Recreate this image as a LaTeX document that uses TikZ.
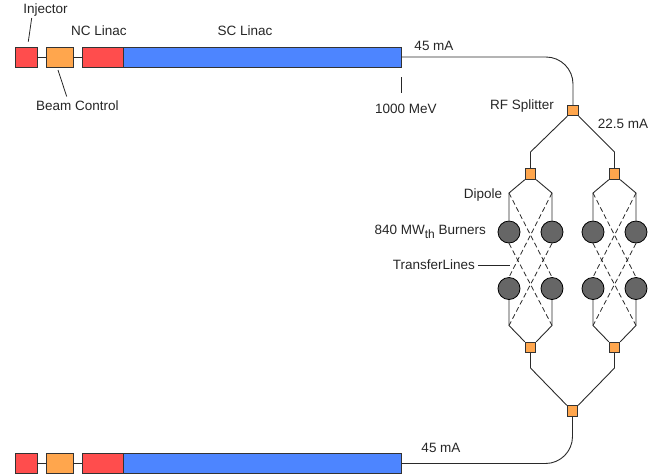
\documentclass[tikz,border=0pt]{standalone}
\usepackage{fontspec}
\setmainfont{Liberation Sans}
\definecolor{injred}{HTML}{FF4D4D}
\definecolor{bcorange}{HTML}{FFA64D}
\definecolor{scblue}{HTML}{4D85FF}
\definecolor{burner}{HTML}{666666}
\definecolor{wire}{HTML}{2A2A2A}
\begin{document}
\begin{tikzpicture}[x=1pt,y=-1pt,
  lbl/.style={font=\fontsize{13.5}{15}\selectfont, inner sep=0pt, text=black!85},
  unit/.style={draw=black!80, line width=0.9pt, minimum height=20pt, inner sep=0pt, anchor=center},
  magnet/.style={draw=black!80, line width=0.8pt, fill=bcorange, minimum size=10.5pt, inner sep=0pt},
  burnerdisk/.style={circle, draw=black, line width=0.8pt, fill=burner, minimum size=22pt, inner sep=0pt},
  beam/.style={draw=wire, line width=0.9pt},
  xfer/.style={draw=wire, line width=0.8pt, dash pattern=on 5pt off 3pt},
  leader/.style={draw=black!85, line width=0.8pt}]
\useasboundingbox (0,0) rectangle (662,475);

% ---------- accelerator chains ----------
\foreach \r/\y in {t/57, b/463.5}{
  \node[unit, fill=injred, minimum width=22pt] (inj\r) at (26,\y) {};
  \node[unit, fill=bcorange, minimum width=27pt] (bc\r) at (59.5,\y) {};
  \node[unit, fill=injred, minimum width=41pt] (nc\r) at (102.5,\y) {};
  \node[unit, fill=scblue, minimum width=278pt] (sc\r) at (262,\y) {};
  \draw[beam] (inj\r.east) -- (bc\r.west);
  \draw[beam] (bc\r.east) -- (nc\r.west);
}

% ---------- splitter and merger ----------
\node[magnet] (spl) at (573,110.5) {};
\node[magnet] (mrg) at (572.5,411) {};
\draw[beam, rounded corners=27pt] (sct.east) -| (spl.north);
\draw[beam, rounded corners=27pt] (scb.east) -| (mrg.south);

% ---------- two burner branches ----------
\foreach \s/\cx in {L/530.5, R/614.5}{
  \node[magnet] (dip\s) at (\cx,174) {};
  \node[magnet] (bot\s) at (\cx,347.5) {};
  \coordinate (in\s) at (\cx,152);
  \coordinate (out\s) at (\cx,368);
  \coordinate (tl\s) at (\cx-21.5,193);
  \coordinate (tr\s) at (\cx+21.5,193);
  \coordinate (bl\s) at (\cx-21.5,325.5);
  \coordinate (br\s) at (\cx+21.5,325.5);
  \node[burnerdisk] (ul\s) at (\cx-21.5,232) {};
  \node[burnerdisk] (ur\s) at (\cx+21.5,232) {};
  \node[burnerdisk] (ll\s) at (\cx-21.5,288.5) {};
  \node[burnerdisk] (lr\s) at (\cx+21.5,288.5) {};
  % beam lines
  \draw[beam] (in\s) -- (dip\s.north);
  \draw[beam] (dip\s.south west) -- (tl\s) -- (ul\s.north);
  \draw[beam] (dip\s.south east) -- (tr\s) -- (ur\s.north);
  \draw[beam] (ll\s.south) -- (bl\s) -- (bot\s.north west);
  \draw[beam] (lr\s.south) -- (br\s) -- (bot\s.north east);
  \draw[beam] (bot\s.south) -- (out\s);
  % transfer lines
  \draw[xfer] (tl\s) -- (lr\s.north);
  \draw[xfer] (tr\s) -- (ll\s.north);
  \draw[xfer] (ul\s.south) -- (br\s);
  \draw[xfer] (ur\s.south) -- (bl\s);
}
\draw[beam] (spl.south west) -- (inL);
\draw[beam] (spl.south east) -- (inR);
\draw[beam] (outL) -- (mrg.north west);
\draw[beam] (outR) -- (mrg.north east);

% ---------- labels ----------
\node[lbl] (tInj) at (45.5,10) {Injector};
\coordinate (aInj) at (28.3,41.7);
\draw[leader] (31.7,18) -- (aInj);
\node[lbl] (tNC) at (99,31) {NC Linac};
\node[lbl] (tBC) at (77.5,106) {Beam Control};
\coordinate (aBC) at (58,70);
\draw[leader] (aBC) -- (66.7,96.5);
\node[lbl] (tSC) at (245,31) {SC Linac};
\node[lbl] (tI1) at (434,46) {45 mA};
\node[lbl] (tE) at (406,109) {1000 MeV};
\coordinate (aE) at (401,77);
\draw[leader] (aE) -- (401,93);
\node[lbl] (tRF) at (522,106.5) {RF Splitter};
\node[lbl] (tI2) at (623,123.5) {22.5 mA};
\node[lbl] (tDip) at (483,195.5) {Dipole};
\node[lbl, anchor=base east] (tBurn) at (486,234.5)
  {840 MW\raisebox{-3.5pt}{\fontsize{12}{12}\selectfont th} Burners};
\node[lbl, anchor=east] (tTL) at (475,265) {TransferLines};
\coordinate (aTL) at (510,265);
\draw[leader] ([xshift=3pt]tTL.east) -- (aTL);
\node[lbl] (tI3) at (441,448) {45 mA};
\end{tikzpicture}
\end{document}
